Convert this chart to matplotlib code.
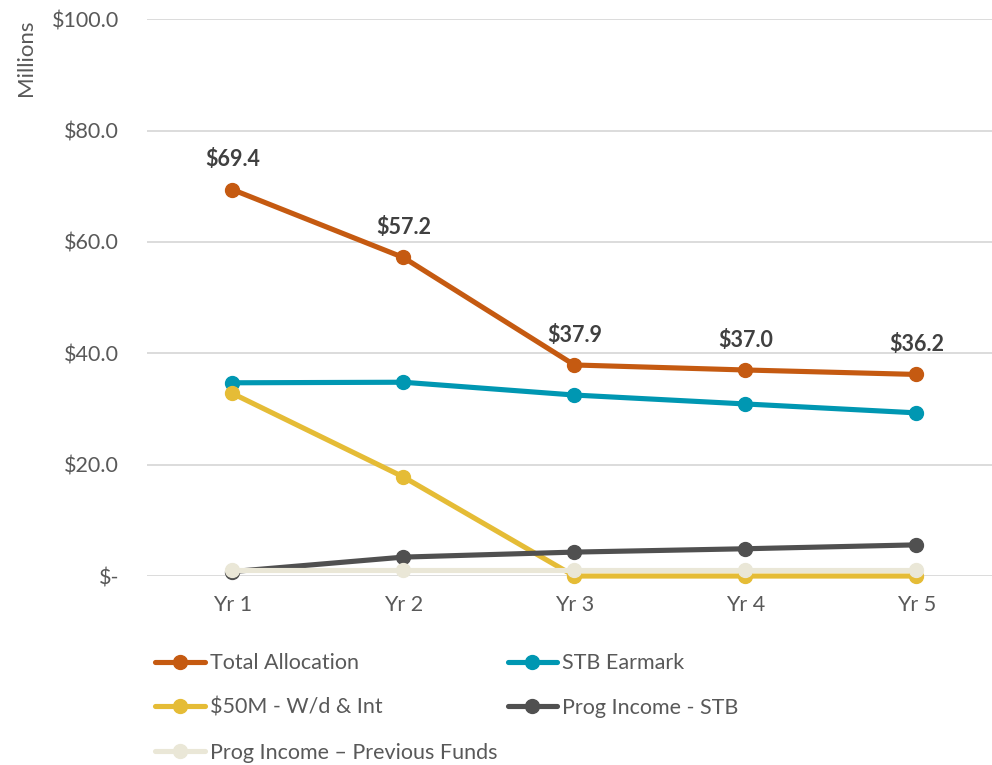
import matplotlib.pyplot as plt
from matplotlib.ticker import FuncFormatter

plt.rcParams['font.family'] = ['Lato', 'DejaVu Sans']

# Five-year funding projection (millions)
years = ['Yr 1', 'Yr 2', 'Yr 3', 'Yr 4', 'Yr 5']
total_allocation = [69.4, 57.2, 37.9, 37.0, 36.2]
stb_earmark = [34.7, 34.8, 32.5, 30.9, 29.3]
w_d_int = [32.8, 17.8, 0.0, 0.0, 0.0]
prog_income_stb = [0.8, 3.4, 4.3, 4.9, 5.6]
prog_income_prev = [1.0, 1.0, 1.0, 1.0, 1.0]

series = [
    ('Total Allocation', total_allocation, '#C55A11'),
    ('STB Earmark', stb_earmark, '#0097B2'),
    ('$50M - W/d & Int', w_d_int, '#E5BC36'),
    ('Prog Income - STB', prog_income_stb, '#505050'),
    ('Prog Income \u2013 Previous Funds', prog_income_prev, '#EAE7D7'),
]

fig = plt.figure(figsize=(9.92, 7.65), dpi=100)
ax = fig.add_axes([0.148, 0.247, 0.862, 0.728])

x = range(len(years))
lines = []
for name, vals, col in series:
    ln, = ax.plot(x, vals, color=col, lw=3.7, marker='o', ms=10,
                  label=name, clip_on=False, solid_capstyle='round')
    lines.append(ln)

for i, v in enumerate(total_allocation):
    ax.annotate(f'${v:.1f}', (i, v), xytext=(0, 14), textcoords='offset points',
                ha='center', va='bottom', fontsize=15.5, fontweight='bold',
                color='#404040')

ax.set_xlim(-0.5, 4.5)
ax.set_ylim(0, 100)
ax.set_yticks([0, 20, 40, 60, 80, 100])
ax.yaxis.set_major_formatter(FuncFormatter(
    lambda v, p: '$-' if v == 0 else f'${v:.1f}'))
ax.set_xticks(list(x))
ax.set_xticklabels(years)

ax.grid(axis='y', color='#D9D9D9', lw=1.3)
ax.set_axisbelow(True)
for s in ax.spines.values():
    s.set_visible(False)
ax.tick_params(axis='both', length=0, labelsize=15.5, colors='#595959')
ax.tick_params(axis='y', pad=20)
ax.tick_params(axis='x', pad=14)

fig.text(0.026, 0.975, 'Millions', rotation=90, ha='center', va='top',
         fontsize=16, color='#595959')

# legend reads row by row, matplotlib fills columns first
order = [0, 2, 4, 1, 3]
ax.legend([lines[i] for i in order], [series[i][0] for i in order],
          loc='upper left', bbox_to_anchor=(0.0, -0.123), ncol=2,
          frameon=False, fontsize=15.5, labelcolor='#595959',
          handlelength=2.3, handletextpad=0.25, columnspacing=0.45,
          labelspacing=1.15, borderaxespad=0)

fig.savefig('out.png', dpi=100)
